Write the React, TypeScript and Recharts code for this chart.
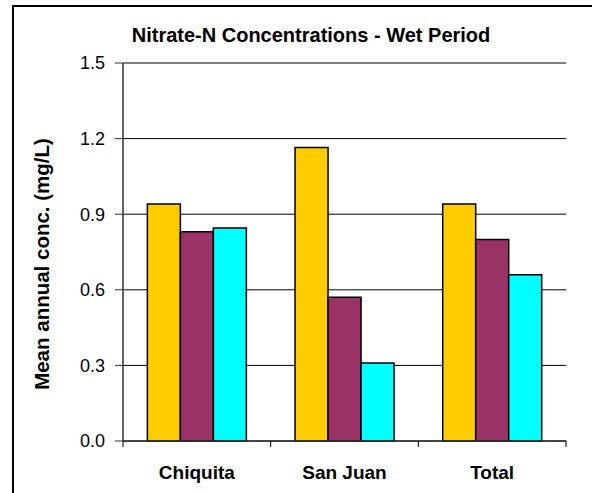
import React from "react";
import { BarChart, Bar, XAxis, YAxis, CartesianGrid } from "recharts";

const categories = ["Chiquita", "San Juan", "Total"];
const seriesA = [0.94, 1.165, 0.94];
const seriesB = [0.83, 0.57, 0.80];
const seriesC = [0.845, 0.31, 0.66];
const yTicks = [0, 0.3, 0.6, 0.9, 1.2, 1.5];
const title = "Nitrate-N Concentrations - Wet Period";
const yLabel = "Mean annual conc. (mg/L)";

const data = categories.map((c, i) => ({ name: c, a: seriesA[i], b: seriesB[i], c: seriesC[i] }));

const FONT = "Arial, 'Liberation Sans', sans-serif";

const CatTick = (props: any) => {
  const { x, y, payload, index, visibleTicksCount } = props;
  const off = payload && typeof payload.offset === "number" && payload.offset > 0 ? payload.offset : 73.9;
  return (
    <g>
      <line x1={x - off} x2={x - off} y1={y} y2={y + 6} stroke="#000" strokeWidth={1} />
      {index === visibleTicksCount - 1 && (
        <line x1={x + off} x2={x + off} y1={y} y2={y + 6} stroke="#000" strokeWidth={1} />
      )}
      <text x={x} y={y + 38} textAnchor="middle" fontFamily={FONT} fontWeight="bold" fontSize={19} fill="#000">
        {payload.value}
      </text>
    </g>
  );
};

const YLabel = () => (
  <text
    x={49}
    y={264}
    transform="rotate(-90 49 264)"
    textAnchor="middle"
    fontFamily={FONT}
    fontWeight="bold"
    fontSize={20.5}
    fill="#000"
  >
    {yLabel}
  </text>
);

export default function App() {
  return (
    <div style={{ position: "absolute", left: 0, top: 0, width: 592, height: 493, background: "#fff", overflow: "hidden" }}>
      <div style={{ position: "absolute", left: 12, top: 5, width: 600, height: 2, background: "#000" }} />
      <div style={{ position: "absolute", left: 12, top: 5, width: 1.5, height: 500, background: "#000" }} />
      <div
        style={{
          position: "absolute",
          left: 12,
          top: 25,
          width: 598,
          textAlign: "center",
          fontFamily: FONT,
          fontWeight: "bold",
          fontSize: 20,
          lineHeight: "20px",
          color: "#000",
        }}
      >
        {title}
      </div>
      <div style={{ position: "absolute", left: 0, top: 0 }}>
        <BarChart
          width={592}
          height={493}
          data={data}
          margin={{ top: 63, right: 26, bottom: 0, left: 0 }}
          barCategoryGap="16.5%"
          barGap={0}
        >
          <CartesianGrid vertical={false} stroke="#000" strokeWidth={1} />
          <XAxis
            dataKey="name"
            height={52}
            tickLine={false}
            tickSize={0}
            tickMargin={0}
            axisLine={{ stroke: "#333", strokeWidth: 1.5 }}
            tick={<CatTick />}
            interval={0}
          />
          <YAxis
            width={123}
            domain={[0, 1.5]}
            ticks={yTicks}
            interval={0}
            tickFormatter={(v: number) => v.toFixed(1)}
            tickSize={8}
            tickMargin={10}
            tickLine={{ stroke: "#333" }}
            axisLine={{ stroke: "#333", strokeWidth: 1.5 }}
            tick={{ fill: "#000", fontFamily: FONT, fontSize: 18 }}
            label={<YLabel />}
          />
          <YAxis
            yAxisId="r"
            orientation="right"
            width={0}
            domain={[0, 1.5]}
            tick={false}
            tickLine={false}
            axisLine={{ stroke: "#000", strokeWidth: 1.5 }}
          />
          <Bar dataKey="a" fill="#FFCC00" stroke="#000" strokeWidth={1.5} isAnimationActive={false} />
          <Bar dataKey="b" fill="#993366" stroke="#000" strokeWidth={1.5} isAnimationActive={false} />
          <Bar dataKey="c" fill="#00FFFF" stroke="#000" strokeWidth={1.5} isAnimationActive={false} />
        </BarChart>
      </div>
    </div>
  );
}
